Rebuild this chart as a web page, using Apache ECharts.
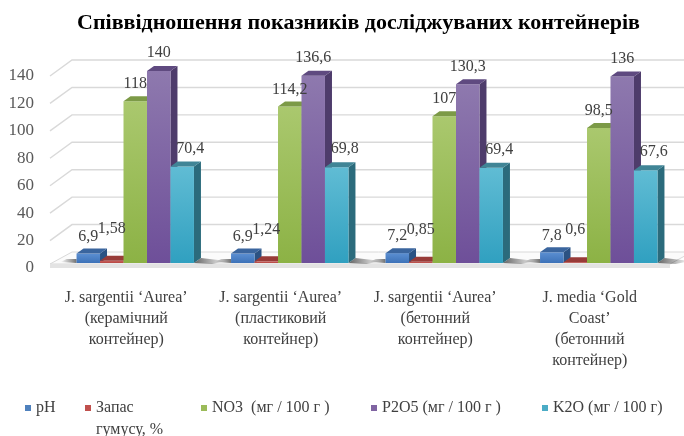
<!DOCTYPE html>
<html>
<head>
<meta charset="utf-8">
<script src="https://cdn.jsdelivr.net/npm/echarts@6/dist/echarts.min.js"></script>
<style>
  html, body { margin: 0; padding: 0; background: #fff; }
  #chart { width: 684px; height: 436px; }
</style>
</head>
<body>
<div id="chart"></div>
<script>
// категорії (підписи осі X)
const categories = [
  "J. sargentii ‘Aurea’\n(керамічний\nконтейнер)",
  "J. sargentii ‘Aurea’\n(пластиковий\nконтейнер)",
  "J. sargentii ‘Aurea’\n(бетонний\nконтейнер)",
  "J. media ‘Gold\nCoast’\n(бетонний\nконтейнер)"
];
const seriesNames = ["pH", "Запас гумусу, %", "NO3  (мг / 100 г )", "P2O5 (мг / 100 г )", "K2O (мг / 100 г)"];
const phValues = [6.9, 6.9, 7.2, 7.8];
const humusValues = [1.58, 1.24, 0.85, 0.6];
const no3Values = [118, 114.2, 107, 98.5];
const p2o5Values = [140, 136.6, 130.3, 136];
const k2oValues = [70.4, 69.8, 69.4, 67.6];
const yTicks = [0, 20, 40, 60, 80, 100, 120, 140];

const FONT = "Liberation Serif";
const DX = 22, DY = -16;     // глибина стін
const BDX = 7, BDY = -5;     // глибина стовпчиків

// кольори: [верх градієнта, низ, верхня грань, бічна грань, легенда]
const palette = [
  ["#5b8fd2", "#3d72b8", "#3a659e", "#2b5283", "#4f81bd"],
  ["#c9605c", "#b54642", "#983b38", "#7d2f2d", "#c0504d"],
  ["#aac86e", "#8cb245", "#7c9a47", "#62803a", "#9bbb59"],
  ["#8e79ae", "#6e4f99", "#5f4a80", "#4e3c6b", "#8064a2"],
  ["#60bcd4", "#30a0c0", "#408596", "#2b6b7c", "#4bacc6"]
];
const labelOffsets = [[0, -17], [0, -32], [0, -17], [0, -18], [8, -18]];

function fmt(v) {
  return String(v).replace(".", ",");
}

function barRenderer(s) {
  const c = palette[s];
  return function (params, api) {
    const i = api.value(0), v = api.value(1);
    const base = api.coord([i, 0]);
    const top = api.coord([i, v]);
    const bw = api.size([1, 0])[0] * 0.76 / 5;
    const x = base[0] - 2.5 * bw + s * bw;
    const yb = base[1], yt = top[1];
    const children = [];
    if (s === 4) {
      children.push({
        type: "polygon", z2: 1,
        shape: { points: [[x + bw, yb], [x + bw + BDX, yb + BDY], [x + bw + BDX + 26, yb + BDY + 3], [x + bw + 18, yb + 1]] },
        style: { fill: new echarts.graphic.LinearGradient(0, 0, 1, 0, [
          { offset: 0, color: "rgba(0,0,0,0.6)" }, { offset: 1, color: "rgba(0,0,0,0)" }]) }
      });
    }
    if (s === 0) {
      children.push({
        type: "polygon", z2: 1,
        shape: { points: [[x, yb - 4], [x, yb], [x - 16, yb - 1], [x - 10, yb - 4]] },
        style: { fill: new echarts.graphic.LinearGradient(1, 0, 0, 0, [
          { offset: 0, color: "rgba(0,0,0,0.55)" }, { offset: 1, color: "rgba(0,0,0,0)" }]) }
      });
    }
    children.push({
      type: "polygon", z2: 2,
      shape: { points: [[x + bw, yt], [x + bw + BDX, yt + BDY], [x + bw + BDX, yb + BDY], [x + bw, yb]] },
      style: { fill: c[3] }
    });
    children.push({
      type: "rect", z2: 2,
      shape: { x: x, y: yt, width: bw, height: yb - yt },
      style: { fill: new echarts.graphic.LinearGradient(0, 0, 0, 1, [
        { offset: 0, color: c[0] }, { offset: 1, color: c[1] }]) }
    });
    children.push({
      type: "polygon", z2: 2,
      shape: { points: [[x, yt], [x + bw, yt], [x + bw + BDX, yt + BDY], [x + BDX, yt + BDY]] },
      style: { fill: c[2] }
    });
    children.push({
      type: "text", z2: 50,
      style: {
        text: fmt(v),
        x: x + bw / 2 + labelOffsets[s][0],
        y: yt + labelOffsets[s][1],
        align: "center", verticalAlign: "middle",
        font: "16px '" + FONT + "'", fill: "#404040"
      }
    });
    return { type: "group", children: children };
  };
}

function wallRenderer(params, api) {
  const v = api.value(1);
  const p0 = api.coord([0, v]);
  const p1 = api.coord([1, v]);
  const children = [];
  if (v === 0) {
    children.push({
      type: "polygon",
      shape: { points: [[p0[0], p0[1] - 4], [p1[0], p1[1] - 4], [p1[0] + DX, p1[1] + DY], [p0[0] + DX, p0[1] + DY]] },
      style: { fill: "#fbfbfb", stroke: "#d9d9d9", lineWidth: 1 }
    });
    children.push({
      type: "rect",
      shape: { x: p0[0], y: p0[1] - 4, width: p1[0] - p0[0], height: 4 },
      style: { fill: "#e3e3e3" }
    });
  } else {
    children.push({
      type: "polyline",
      shape: { points: [p0, [p0[0] + DX, p0[1] + DY], [p1[0] + DX, p1[1] + DY]] },
      style: { stroke: "#d9d9d9", lineWidth: 1.4, fill: null }
    });
  }
  return { type: "group", children: children };
}

const valueSets = [phValues, humusValues, no3Values, p2o5Values, k2oValues];
const legendLefts = [25, 85, 201, 371, 542];

const series = [{
  type: "custom",
  xAxisIndex: 1, yAxisIndex: 1,
  z: 1,
  silent: true,
  renderItem: wallRenderer,
  data: yTicks.map(function (t) { return [0, t]; })
}];
valueSets.forEach(function (vals, s) {
  series.push({
    type: "custom",
    name: seriesNames[s],
    xAxisIndex: 0, yAxisIndex: 0,
    z: 2,
    itemStyle: { color: palette[s][4] },
    renderItem: barRenderer(s),
    encode: { x: 0, y: 1 },
    data: vals.map(function (v, i) { return [i, v]; })
  });
});

const chart = echarts.init(document.getElementById("chart"), null, { renderer: "canvas" });
chart.setOption({
  animation: false,
  backgroundColor: "#fff",
  title: {
    text: "Співвідношення показників досліджуваних контейнерів",
    left: 72,
    top: 7,
    textStyle: { fontFamily: FONT, fontSize: 22, fontWeight: "bold", color: "#000" }
  },
  legend: seriesNames.map(function (n, k) {
    return {
      data: [n],
      left: legendLefts[k],
      top: k === 1 ? 375 : 397,
      padding: 0,
      icon: "rect",
      itemWidth: 6, itemHeight: 6,
      selectedMode: false,
      // порожній перший рядок, щоб маркер стояв навпроти "Запас"
      formatter: function (name) { return name === "Запас гумусу, %" ? " \nЗапас\nгумусу, %" : name; },
      textStyle: { fontFamily: FONT, fontSize: 16, color: "#404040", lineHeight: 22 }
    };
  }),
  grid: [
    { left: 58, right: 8, top: 71, bottom: 173 },
    { left: 50, right: 14, top: 76, bottom: 168 }
  ],
  xAxis: [
    {
      type: "category", gridIndex: 0, data: categories,
      axisLine: { show: false }, axisTick: { show: false },
      axisLabel: {
        interval: 0, margin: 24,
        fontFamily: FONT, fontSize: 16, lineHeight: 21, color: "#404040",
        padding: [0, 18, 0, 0]
      }
    },
    { type: "value", gridIndex: 1, min: 0, max: 1, show: false }
  ],
  yAxis: [
    { type: "value", gridIndex: 0, min: 0, max: 140, show: false },
    {
      type: "value", gridIndex: 1, min: 0, max: 140, interval: 20,
      axisLine: { show: false }, axisTick: { show: false },
      splitLine: { show: false },
      axisLabel: { margin: 16, fontFamily: FONT, fontSize: 17, color: "#595959" }
    }
  ],
  series: series
});
</script>
</body>
</html>
